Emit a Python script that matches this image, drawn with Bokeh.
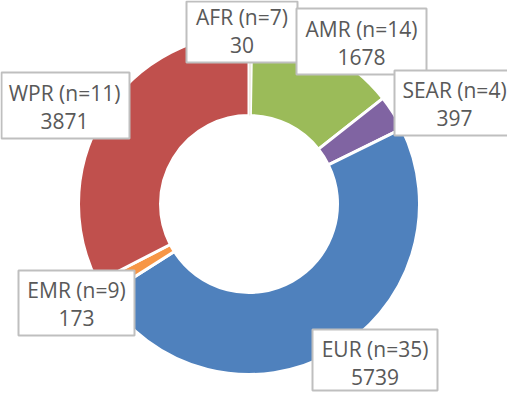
import numpy as np
from bokeh.plotting import figure
from bokeh.models import Range1d, ColumnDataSource
from bokeh.embed import file_html
from bokeh.resources import INLINE
from bokeh.core.properties import value

# ---- data ----
regions = ["AFR", "AMR", "SEAR", "EUR", "EMR", "WPR"]
counts = [7, 14, 4, 35, 9, 11]
values = [30, 1678, 397, 5739, 173, 3871]
colors = ["#EEECE1", "#9BBB59", "#8064A2", "#4F81BD", "#F79646", "#C0504D"]

# ---- layout (screen pixel coordinates in the page), same order as regions ----
WIN_H = 409
W, H = 507, 393
cx_s, cy_s = 256.5, 211.5
r_out, r_in = 170.5, 88.5

# label boxes: left, right, top, bottom (screen px)
box_l = [194, 304, 402, 320, 26, 9]
box_r = [305, 434, 530, 445, 142, 137]
box_t = [9, 16, 78, 337, 278, 80]
box_b = [70, 82, 143, 398, 343, 146]
txt_x = [249.5, 369, 462, 382.5, 84, 72]
TXT_SHIFT = -8
txt_y1 = [32, 44, 105, 364, 305, 108]
txt_y2 = [60, 72, 133, 392, 333, 136]

def fy(y):
    return WIN_H - y

p = figure(width=W, height=H,
           x_range=Range1d(8, 8 + W), y_range=Range1d(fy(8 + H), fy(8)),
           output_backend="svg", toolbar_location=None, min_border=0)
p.axis.visible = False
p.grid.visible = False
p.outline_line_color = None
p.background_fill_color = "white"
p.border_fill_color = "white"

total = float(sum(values))
cum = np.concatenate([[0], np.cumsum(values)])
start = np.pi / 2 - 2 * np.pi * cum[:-1] / total
end = np.pi / 2 - 2 * np.pi * cum[1:] / total

src = ColumnDataSource(dict(start=start, end=end, color=colors))
p.annular_wedge(x=cx_s, y=fy(cy_s), inner_radius=r_in, outer_radius=r_out,
                start_angle="start", end_angle="end", direction="clock",
                fill_color="color", line_color="white", line_width=3, source=src)
# keep the tiny first slice visible on top of its neighbours' borders
p.annular_wedge(x=cx_s, y=fy(cy_s), inner_radius=r_in, outer_radius=r_out - 1,
                start_angle=start[0], end_angle=end[0], direction="clock",
                fill_color=colors[0], line_color=None)

bsrc = ColumnDataSource(dict(left=box_l, right=box_r,
                             top=[fy(v) for v in box_t],
                             bottom=[fy(v) for v in box_b]))
p.quad(left="left", right="right", top="top", bottom="bottom", source=bsrc,
       fill_color="white", line_color="#BFBFBF", line_width=2)

line1 = [f"{r} (n={c})" for r, c in zip(regions, counts)]
line2 = [str(v) for v in values]
tsrc = ColumnDataSource(dict(x=txt_x,
                             y1=[fy(v + TXT_SHIFT) for v in txt_y1],
                             y2=[fy(v + TXT_SHIFT) for v in txt_y2],
                             l1=line1, l2=line2))
for yk, tk in (("y1", "l1"), ("y2", "l2")):
    p.text(x="x", y=yk, text=tk, source=tsrc, text_align="center",
           text_baseline="alphabetic", text_font=value("Open Sans"),
           text_font_size="21px", text_color="#595959")

open("out.html", "w").write(file_html(p, INLINE))
